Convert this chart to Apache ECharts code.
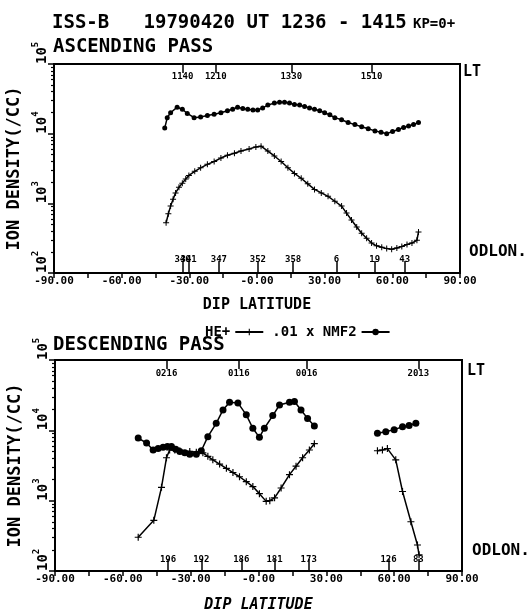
<!DOCTYPE html>
<html><head><meta charset="utf-8">
<script src="https://cdn.jsdelivr.net/npm/echarts@6/dist/echarts.min.js"></script>
<style>html,body{margin:0;padding:0;background:#fff}#c{width:531px;height:610px}</style>
</head><body><div id="c"></div>
<script>
// ---------- data (dip latitude, log10 ion density /cc) ----------
const ascNmf2Lat = [-40.9,-39.8,-38.3,-35.4,-33.1,-30.9,-27.9,-25.0,-22.0,-19.0,-16.0,-13.1,-10.8,-8.6,-6.3,-4.1,-1.8,0.3,2.5,4.8,7.7,10.0,12.2,14.4,16.6,18.9,21.1,23.3,25.5,27.8,30.0,32.3,34.5,37.5,40.4,43.4,46.4,49.3,52.3,55.0,57.5,60.1,62.7,65.0,67.2,69.4,71.6];
const ascNmf2Log = [4.08,4.23,4.30,4.38,4.35,4.29,4.23,4.24,4.26,4.28,4.30,4.33,4.35,4.38,4.36,4.35,4.34,4.34,4.37,4.41,4.44,4.45,4.45,4.44,4.42,4.41,4.39,4.37,4.35,4.33,4.30,4.27,4.23,4.20,4.16,4.13,4.10,4.07,4.04,4.02,4.00,4.03,4.06,4.09,4.11,4.13,4.16];
const ascHeLat = [-40.3,-39.3,-38.3,-37.2,-36.1,-34.6,-33.1,-31.6,-30.2,-27.6,-25.0,-22.0,-19.0,-16.0,-13.1,-10.0,-7.1,-3.5,-0.5,1.8,4.8,7.7,10.7,13.7,16.6,19.6,22.5,25.5,28.5,31.5,34.5,37.5,39.7,41.9,44.2,46.4,48.6,50.8,53.0,55.3,57.5,59.7,62.0,64.2,66.5,68.7,70.9,71.6];
const ascHeLog = [2.72,2.85,2.96,3.06,3.15,3.23,3.29,3.35,3.40,3.46,3.51,3.56,3.60,3.65,3.69,3.72,3.75,3.78,3.81,3.82,3.75,3.68,3.60,3.51,3.43,3.36,3.28,3.20,3.15,3.10,3.03,2.96,2.86,2.76,2.66,2.57,2.50,2.43,2.39,2.37,2.35,2.34,2.36,2.38,2.41,2.43,2.47,2.59];
const descNmf2Lat = [-53.2,-49.5,-46.6,-44.4,-42.2,-40.3,-38.5,-36.6,-34.8,-32.6,-30.4,-27.5,-25.3,-22.4,-18.7,-15.7,-12.8,-9.1,-5.4,-2.5,0.4,2.6,6.3,9.3,13.7,15.9,18.8,21.7,24.7,null,52.6,56.3,60.0,63.7,66.6,69.6];
const descNmf2Log = [3.89,3.82,3.72,3.74,3.76,3.77,3.77,3.73,3.70,3.68,3.66,3.66,3.71,3.91,4.10,4.29,4.40,4.39,4.22,4.03,3.90,4.03,4.21,4.36,4.40,4.41,4.29,4.17,4.06,null,3.96,3.98,4.01,4.05,4.07,4.10];
const descHeLat = [-53.2,-46.3,-42.9,-40.7,-39.3,-37.0,-34.8,-30.4,-27.5,-24.6,-22.4,-20.2,-17.2,-14.2,-11.3,-8.4,-5.4,-2.5,0.4,3.4,5.0,7.1,10.0,13.7,16.6,19.5,22.5,24.7,null,52.6,54.8,57.0,60.7,63.7,67.4,70.3,71.0];
const descHeLog = [2.48,2.72,3.19,3.61,3.72,3.72,3.71,3.70,3.69,3.68,3.63,3.58,3.52,3.46,3.40,3.34,3.27,3.20,3.10,2.99,3.00,3.04,3.18,3.37,3.49,3.61,3.72,3.81,null,3.71,3.72,3.74,3.58,3.13,2.70,2.37,2.23];

// ---------- tick labels ----------
const xTickLabels = ['-90.00','-60.00','-30.00','-0.00','30.00','60.00','90.00'];
const yExponents = ['2','3','4','5'];
const ascLtLat = [-33.0,-18.3,15.2,50.8];
const ascLtLabels = ['1140','1210','1330','1510'];
const ascLonLat = [-37.0,-33.0,-30.3,-16.9,0.4,16.0,35.2,52.2,65.5];
const ascLonLabels = ['338','340','341','347','352','358','6','19','43'];
const descLtLat = [-40.7,-8.7,21.3,70.7];
const descLtLabels = ['0216','0116','0016','2013'];
const descLonLat = [-40.0,-25.3,-7.6,7.1,22.2,57.5,70.7];
const descLonLabels = ['196','192','186','181','173','126','83'];

const MONO = '"DejaVu Sans Mono", monospace';
const BLK = '#000';
function pts(lat, val){ return lat.map((x,i)=> x===null ? '-' : [x, val[i]]); }
const minorVals = [];
for (let n=2;n<5;n++) for (let k=2;k<10;k++) minorVals.push(n+Math.log10(k));
const plus = 'path://M-1,-6L1,-6L1,-1L6,-1L6,1L1,1L1,6L-1,6L-1,1L-6,1L-6,-1L-1,-1Z';

function mainX(gi, nameGap, italic){
  return {gridIndex:gi, type:'value', min:-90, max:90, interval:30, position:'bottom',
    axisLine:{show:true, onZero:false, lineStyle:{color:BLK,width:2}},
    axisTick:{show:true,length:5,lineStyle:{color:BLK,width:1.5}},
    minorTick:{show:true,splitNumber:2,length:5,lineStyle:{color:BLK,width:1.5}},
    splitLine:{show:false},
    axisLabel:{margin:3,color:BLK,fontFamily:MONO,fontWeight:'bold',fontSize:11,
      formatter:v=>xTickLabels[Math.round((v+90)/30)]},
    name:'DIP LATITUDE', nameLocation:'middle', nameGap:nameGap,
    nameTextStyle:{color:BLK,fontFamily:MONO,fontWeight:'bold',fontSize:15,fontStyle:italic?'italic':'normal'}};
}
function secX(gi, pos, lats, labels, len, margin){
  return {gridIndex:gi, type:'value', min:-90, max:90, position:pos,
    axisLine:{show:false, onZero:false}, splitLine:{show:false},
    axisTick:{show:true,inside:true,length:len,customValues:lats,lineStyle:{color:BLK,width:1.5}},
    axisLabel:{show:true,inside:true,margin:margin,customValues:lats,
      formatter:v=>labels[lats.indexOf(v)],color:BLK,fontFamily:MONO,fontWeight:'bold',fontSize:9}};
}
function mainY(gi){
  return {gridIndex:gi, type:'value', min:2, max:5, interval:1,
    axisLine:{show:true,onZero:false,lineStyle:{color:BLK,width:2}},
    axisTick:{show:true,length:6,lineStyle:{color:BLK,width:1.5}},
    splitLine:{show:false},
    axisLabel:{rotate:90, align:'left', verticalAlign:'bottom', margin:5,
      formatter:v=>'{a|10}{b|'+yExponents[Math.round(v-2)]+'}',
      rich:{a:{fontFamily:MONO,fontWeight:'bold',fontSize:14,color:BLK,lineHeight:18,verticalAlign:'bottom'},
            b:{fontFamily:MONO,fontWeight:'bold',fontSize:9,color:BLK,lineHeight:18,verticalAlign:'top'}}},
    name:'ION DENSITY(/CC)', nameLocation:'middle', nameGap:28,
    nameTextStyle:{color:BLK,fontFamily:MONO,fontWeight:'bold',fontSize:17}};
}
function minorY(gi){
  return {gridIndex:gi, type:'value', min:2, max:5, position:'left',
    axisLine:{show:false,onZero:false}, splitLine:{show:false}, axisLabel:{show:false},
    axisTick:{show:true,length:3,customValues:minorVals,lineStyle:{color:BLK,width:1.2}}};
}
function ser(name, xi, yi, lat, val, sym, size){
  return {name:name, type:'line', xAxisIndex:xi, yAxisIndex:yi, data:pts(lat,val),
    symbol:sym, symbolSize:size, showAllSymbol:true, connectNulls:false,
    lineStyle:{color:BLK,width:1.5}, itemStyle:{color:BLK}, animation:false};
}
function txt(x,y,text,font){
  return {type:'text', x:x, y:y, style:{text:text, font:font, fill:BLK, verticalAlign:'middle'}};
}

const chart = echarts.init(document.getElementById('c'), null, {renderer:'canvas'});
chart.setOption({
  animation:false,
  backgroundColor:'#fff',
  grid:[
    {left:54,right:71,top:64,bottom:337,show:true,borderColor:BLK,borderWidth:2,outerBoundsMode:'none'},
    {left:54,right:71,top:64,bottom:337,outerBoundsMode:'none'},
    {left:55,right:69,top:360,bottom:39,show:true,borderColor:BLK,borderWidth:2,outerBoundsMode:'none'},
    {left:55,right:69,top:360,bottom:39,outerBoundsMode:'none'}
  ],
  xAxis:[
    mainX(0,25,false),
    secX(0,'top',ascLtLat,ascLtLabels,9,8),
    secX(1,'bottom',ascLonLat,ascLonLabels,12,9),
    mainX(2,27,true),
    secX(2,'top',descLtLat,descLtLabels,9,9),
    secX(3,'bottom',descLonLat,descLonLabels,12,7)
  ],
  yAxis:[mainY(0), minorY(1), mainY(2), minorY(3)],
  legend:{left:200, top:320, align:'right', itemWidth:28, itemHeight:8, itemGap:8,
    data:['HE+','.01 x NMF2'], selectedMode:false,
    textStyle:{fontFamily:MONO,fontWeight:'bold',fontSize:14,color:BLK}},
  graphic:[
    txt(52,23,'ISS-B   19790420 UT 1236 - 1415','bold 19px "DejaVu Sans Mono"'),
    txt(413,24,'KP=0+','bold 14px "DejaVu Sans Mono"'),
    txt(53,47,'ASCENDING PASS','bold 19px "DejaVu Sans Mono"'),
    txt(53,345,'DESCENDING PASS','bold 19px "DejaVu Sans Mono"'),
    txt(463,72,'LT','bold 15px "DejaVu Sans Mono"'),
    txt(467,371,'LT','bold 15px "DejaVu Sans Mono"'),
    txt(469,252,'ODLON.','bold 16px "DejaVu Sans Mono"'),
    txt(472,551,'ODLON.','bold 16px "DejaVu Sans Mono"')
  ],
  series:[
    ser('HE+',0,0,ascHeLat,ascHeLog,plus,6),
    ser('.01 x NMF2',0,0,ascNmf2Lat,ascNmf2Log,'circle',5),
    ser('HE+',3,2,descHeLat,descHeLog,plus,7),
    ser('.01 x NMF2',3,2,descNmf2Lat,descNmf2Log,'circle',7)
  ]
});
</script></body></html>
